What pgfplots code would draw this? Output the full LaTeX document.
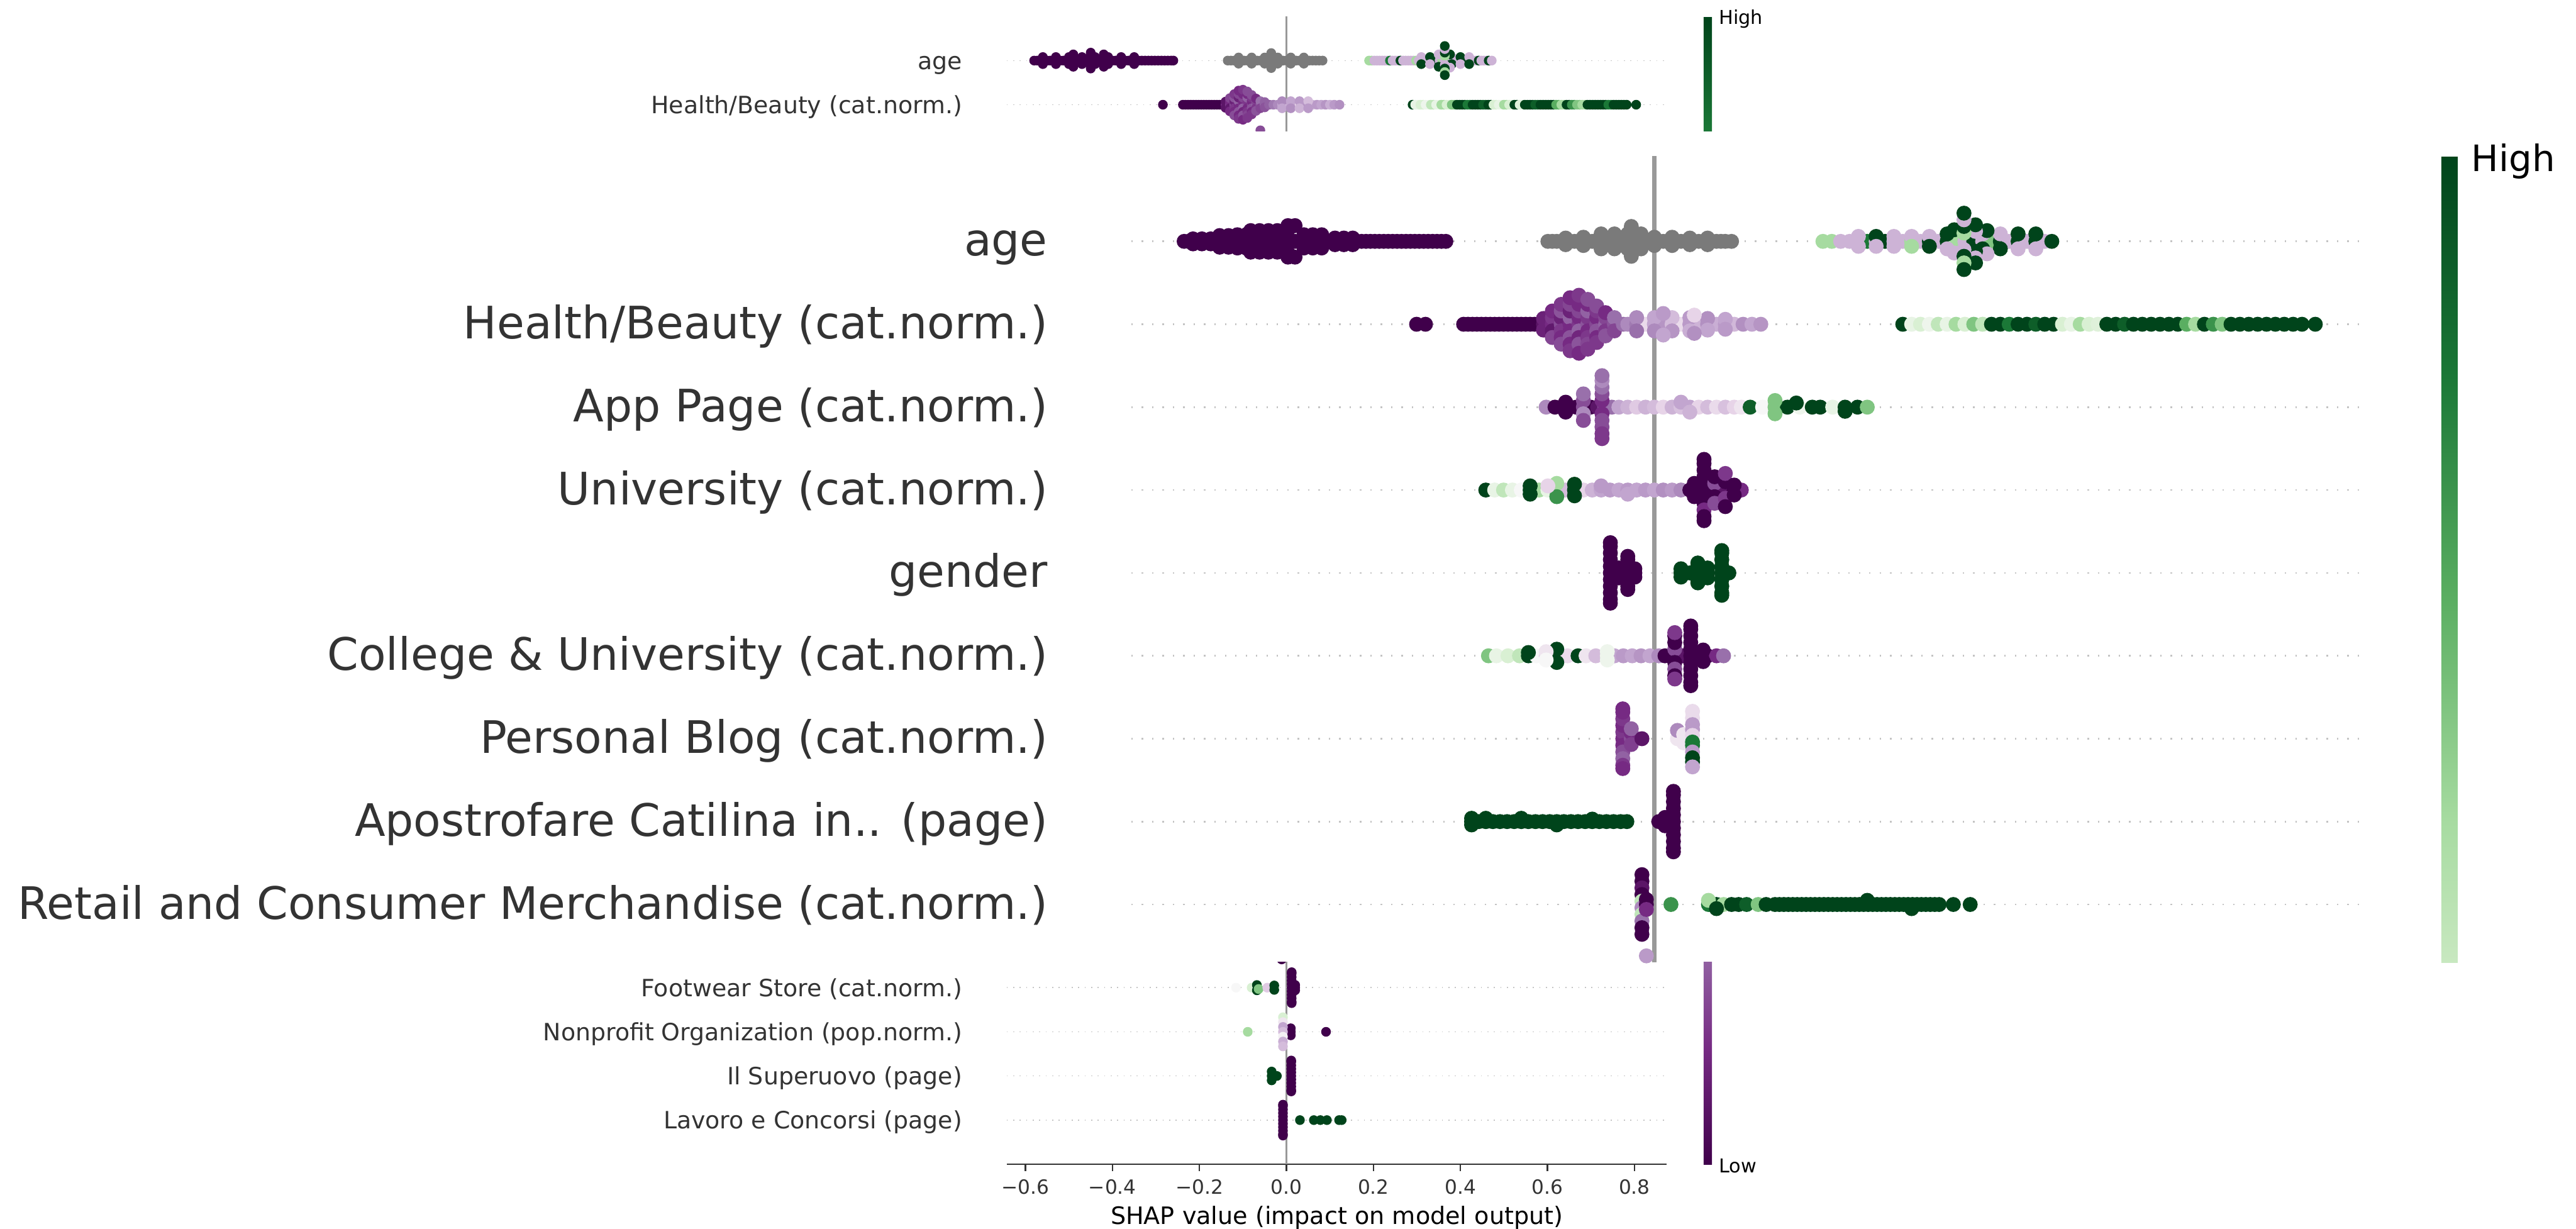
\documentclass[border=0pt]{standalone}
\usepackage{fontspec}
\setmainfont{DejaVu Sans}
\usepackage{pgfplots}
\pgfplotsset{compat=1.18}
\definecolor{c333}{HTML}{333333}
\definecolor{pdark}{HTML}{40004B}
\definecolor{gdark}{HTML}{00441B}
\definecolor{shapgray}{HTML}{7A7A7A}
\definecolor{zline}{HTML}{999999}
\definecolor{dotc}{HTML}{C4C4C4}
\pgfplotsset{
  colormap={prgn}{rgb255=(64,0,75) rgb255=(118,42,131) rgb255=(153,112,171) rgb255=(194,165,207) rgb255=(231,212,232) rgb255=(247,247,247) rgb255=(217,240,211) rgb255=(166,219,160) rgb255=(90,174,97) rgb255=(27,120,55) rgb255=(0,68,27)},
  colormap={greencb}{rgb255(0pt)=(200,232,192) rgb255(65pt)=(166,219,160) rgb255(165pt)=(90,174,97) rgb255(265pt)=(27,120,55) rgb255(365pt)=(0,68,27)},
  beeB/.style={only marks, scatter, scatter src=explicit, mark=*, mark size=0.84mm, scatter/use mapped color={draw=mapped color, fill=mapped color}},
  beeS/.style={only marks, scatter, scatter src=explicit, mark=*, mark size=0.52mm, scatter/use mapped color={draw=mapped color, fill=mapped color}},
}
\begin{document}
\begin{tikzpicture}
\useasboundingbox (0,-149.6mm) rectangle (313.6mm,0);
% ================= small (background) summary plot =================
\begin{axis}[
 at={(122.56mm,-141.72mm)}, anchor=south west,
 scale only axis, width=80.36mm, height=139.72mm,
 xmin=-0.643, xmax=0.8746, ymin=-1, ymax=25,
 axis x line*=bottom, axis y line*=left,
 y axis line style={draw=none},
 x axis line style={c333, line width=0.5pt},
 xtick={-0.6,-0.4,-0.2,0,0.2,0.4,0.6,0.8},
 xticklabels={−0.6,−0.4,−0.2,0.0,0.2,0.4,0.6,0.8},
 xtick align=outside, major tick length=0.8mm,
 xtick style={c333, line width=0.5pt},
 xticklabel style={font=\fontsize{6.8}{8}\selectfont, text=c333, inner sep=0pt, yshift=-1mm},
 ytick={0,1,2,3,23,24},
 yticklabels={{Lavoro e Concorsi (page)},{Il Superuovo (page)},{Nonprofit Organization (pop.norm.)},{Footwear Store (cat.norm.)},{Health/Beauty (cat.norm.)},{age}},
 ytick style={draw=none},
 yticklabel style={font=\fontsize{8.25}{10}\selectfont, text=c333, inner sep=0pt, anchor=base east, xshift=-5.36mm, yshift=-1.06mm},
 xlabel={SHAP value (impact on model output)},
 xlabel style={font=\fontsize{8.3}{10}\selectfont, at={(axis description cs:0.5,0)}, anchor=center, yshift=-6.54mm},
 colormap name=prgn, point meta min=0, point meta max=10,
 colorbar, colorbar style={at={(parent axis.north east)}, anchor=north west, xshift=1.48mm, scale only axis, width=1mm, height=139.72mm, hide axis},
]
\addplot[zline, line width=0.3mm] coordinates {(0,-1) (0,25)};
\pgfplotsinvokeforeach{0,1,2,3,23,24}{
\addplot[dotc, line width=0.35pt, dash pattern=on 0.35pt off 1.9pt] coordinates {(-0.643,#1) (0.8746,#1)};
}
% age (row 24)
\addplot[only marks, mark=*, mark size=0.52mm, pdark] coordinates {
(-0.58,24) (-0.5725,24) (-0.565,24) (-0.5575,24) (-0.55,24) (-0.5425,24) (-0.535,24) (-0.5275,24) (-0.52,24) (-0.5125,24) (-0.505,24) (-0.4975,24) (-0.49,24) (-0.4825,24) (-0.475,24) (-0.4675,24) (-0.46,24) (-0.4525,24) (-0.445,24) (-0.4375,24) (-0.43,24) (-0.4225,24)
(-0.415,24) (-0.4075,24) (-0.40,24) (-0.3925,24) (-0.385,24) (-0.3775,24) (-0.37,24) (-0.3625,24) (-0.355,24) (-0.3475,24) (-0.34,24) (-0.3325,24) (-0.325,24) (-0.3175,24) (-0.31,24) (-0.3025,24) (-0.295,24) (-0.2875,24) (-0.28,24) (-0.2725,24) (-0.265,24) (-0.26,24)
(-0.56,24.08) (-0.56,23.92) (-0.53,24.08) (-0.53,23.92) (-0.50,24.08) (-0.50,23.92) (-0.47,24.08) (-0.47,23.92) (-0.44,24.08) (-0.44,23.92) (-0.41,24.08) (-0.41,23.92) (-0.38,24.08) (-0.38,23.92) (-0.35,24.08) (-0.35,23.92)
(-0.49,24.14) (-0.49,23.86) (-0.45,24.14) (-0.45,23.86) (-0.42,24.14) (-0.42,23.86) (-0.45,24.18) (-0.45,23.82)};
\addplot[only marks, mark=*, mark size=0.52mm, shapgray] coordinates {
(-0.135,24) (-0.1275,24) (-0.12,24) (-0.1125,24) (-0.105,24) (-0.0975,24) (-0.09,24) (-0.0825,24) (-0.075,24) (-0.0675,24) (-0.06,24) (-0.0525,24) (-0.045,24) (-0.0375,24) (-0.03,24)
(-0.0225,24) (-0.015,24) (-0.0075,24) (0,24) (0.0075,24) (0.015,24) (0.0225,24) (0.03,24) (0.0375,24) (0.045,24) (0.0525,24) (0.06,24) (0.0675,24) (0.075,24) (0.083,24)
(-0.11,24.07) (-0.11,23.93) (-0.08,24.07) (-0.08,23.93) (-0.05,24.07) (-0.05,23.93) (-0.02,24.07) (-0.02,23.93) (0.01,24.07) (0.01,23.93) (0.04,24.07) (0.04,23.93)
(-0.035,24.13) (-0.035,23.87) (-0.035,24.17) (-0.035,23.83)};
\addplot[beeS] table[x=x,y=y,meta=c,row sep=\\]{
x y c\\
0.190 24 7\\ 0.196 24 7\\ 0.202 24 3.3\\ 0.208 24 3.3\\ 0.214 24 3.3\\ 0.220 24 3.3\\ 0.226 24 3.3\\ 0.232 24 3.3\\ 0.238 24 9\\ 0.244 24 3.3\\ 0.250 24 3.3\\ 0.256 24 3.3\\ 0.262 24 10\\ 0.268 24 3.3\\ 0.274 24 3.3\\ 0.280 24 3.3\\ 0.286 24 3.3\\ 0.292 24 3.3\\ 0.298 24 7\\ 0.304 24 3.3\\
0.310 24 3.3\\ 0.316 24 3.3\\ 0.322 24 10\\ 0.328 24 3.3\\ 0.334 24 3.3\\ 0.340 24 3.3\\ 0.346 24 10\\ 0.352 24 3.3\\ 0.358 24 7\\ 0.364 24 3.3\\ 0.370 24 3.3\\ 0.376 24 3.3\\ 0.382 24 10\\ 0.388 24 3.3\\ 0.394 24 3.3\\ 0.400 24 3.3\\ 0.406 24 7.5\\ 0.412 24 3.3\\ 0.418 24 10\\ 0.424 24 3.3\\
0.430 24 3.3\\ 0.436 24 3.3\\ 0.442 24 10\\ 0.448 24 3.3\\ 0.454 24 3.3\\ 0.460 24 3.3\\ 0.465 24 10\\ 0.472 24 3.3\\
0.310 24.08 3.3\\ 0.310 23.92 10\\ 0.330 24.08 10\\ 0.330 23.92 3.3\\ 0.380 24.08 3.3\\ 0.380 23.92 10\\ 0.400 24.08 10\\ 0.400 23.92 3.3\\ 0.420 24.08 3.3\\ 0.420 23.92 10\\
0.350 24.14 3.3\\ 0.350 23.86 10\\ 0.376 24.14 10\\ 0.376 23.84 3.3\\
0.364 24.1 7\\ 0.364 24.18 10\\ 0.364 24.26 3.3\\ 0.364 24.33 10\\ 0.364 23.9 3.3\\ 0.364 23.82 10\\ 0.364 23.74 7\\ 0.364 23.67 10\\
};
% Health/Beauty (row 23)
\addplot[only marks, mark=*, mark size=0.52mm, pdark] coordinates {
(-0.284,23) (-0.238,23) (-0.232,23) (-0.226,23) (-0.22,23) (-0.214,23) (-0.208,23) (-0.202,23) (-0.196,23) (-0.19,23) (-0.184,23) (-0.178,23) (-0.172,23) (-0.166,23) (-0.16,23) (-0.154,23) (-0.148,23) (-0.145,23)};
\addplot[beeS] table[x=x,y=y,meta=c,row sep=\\]{
x y c\\
-0.140 23 1\\ -0.140 23.07 0.5\\ -0.140 22.93 0.5\\
-0.130 23 1.2\\ -0.130 23.08 1\\ -0.130 22.92 0.6\\ -0.130 23.15 1.4\\ -0.130 22.85 1\\
-0.120 23 1.5\\ -0.120 23.08 0.8\\ -0.120 22.92 1.2\\ -0.120 23.16 1.6\\ -0.120 22.84 1\\ -0.120 23.24 1.2\\ -0.120 22.76 1.5\\
-0.110 23 1\\ -0.110 23.08 1.8\\ -0.110 22.92 1\\ -0.110 23.16 0.8\\ -0.110 22.84 1.6\\ -0.110 23.24 1.4\\ -0.110 22.76 1\\ -0.110 23.32 1\\ -0.110 22.68 1.2\\
-0.100 23 1.2\\ -0.100 23.08 1\\ -0.100 22.92 1.8\\ -0.100 23.16 1.4\\ -0.100 22.84 0.9\\ -0.100 23.24 1\\ -0.100 22.76 1.6\\ -0.100 23.34 1.2\\ -0.100 22.66 1\\
-0.090 23 1.6\\ -0.090 23.08 1.2\\ -0.090 22.92 1\\ -0.090 23.16 1.8\\ -0.090 22.84 1.2\\ -0.090 23.24 1\\ -0.090 22.76 1.4\\ -0.090 23.3 1.5\\ -0.090 22.7 1.2\\
-0.080 23 1.4\\ -0.080 23.08 1\\ -0.080 22.92 1.6\\ -0.080 23.16 1.2\\ -0.080 22.84 1\\ -0.080 23.22 1.5\\ -0.080 22.78 1.2\\
-0.070 23 1.8\\ -0.070 23.08 1.4\\ -0.070 22.92 1.2\\ -0.070 23.14 1\\ -0.070 22.86 1.6\\
-0.060 23 1.6\\ -0.060 23.08 2\\ -0.060 22.92 1.4\\
-0.050 23 2\\ -0.050 23.06 1.8\\ -0.050 22.94 1.6\\
-0.040 23 1.8\\ -0.030 23 2.2\\
-0.020 23 2.5\\ -0.010 23 3\\ 0.000 23 4.2\\ 0.010 23 3\\ 0.020 23 2.8\\ 0.030 23 4\\ 0.040 23 3\\ 0.050 23 2.6\\ 0.060 23 3.3\\ 0.070 23 2.8\\
0.080 23 3\\ 0.090 23 2.7\\ 0.100 23 3.2\\ 0.110 23 2.8\\ 0.122 23 2.6\\
-0.010 23.08 2.5\\ -0.010 22.92 3\\ 0.010 23.08 3\\ 0.010 22.92 2.6\\ 0.030 23.08 2.8\\ 0.030 22.92 3.3\\ 0.050 23.08 3.5\\ 0.050 22.92 2.8\\
0.290 23 10\\ 0.296 23 5.5\\ 0.302 23 5.5\\ 0.308 23 6\\ 0.314 23 6\\ 0.320 23 5.3\\ 0.326 23 5.3\\ 0.332 23 6.5\\ 0.338 23 6.5\\ 0.344 23 5.5\\ 0.350 23 5.5\\ 0.356 23 7\\ 0.362 23 7\\ 0.368 23 6\\ 0.374 23 6\\ 0.380 23 7.5\\ 0.386 23 7.5\\ 0.392 23 10\\ 0.398 23 10\\ 0.404 23 10\\
0.410 23 10\\ 0.416 23 9\\ 0.422 23 9\\ 0.428 23 10\\ 0.434 23 10\\ 0.440 23 10\\ 0.446 23 10\\ 0.452 23 9.5\\ 0.458 23 9.5\\ 0.464 23 10\\ 0.470 23 10\\ 0.476 23 6\\ 0.482 23 6\\ 0.488 23 5.5\\ 0.494 23 5.5\\ 0.500 23 7\\ 0.506 23 7\\ 0.512 23 6\\ 0.518 23 6\\ 0.524 23 10\\
0.530 23 10\\ 0.536 23 5.8\\ 0.542 23 5.8\\ 0.548 23 10\\ 0.554 23 10\\ 0.560 23 10\\ 0.566 23 10\\ 0.572 23 9.5\\ 0.578 23 9.5\\ 0.584 23 10\\ 0.590 23 10\\ 0.596 23 10\\ 0.602 23 10\\ 0.608 23 10\\ 0.614 23 10\\ 0.620 23 8\\ 0.626 23 8\\ 0.632 23 7\\ 0.638 23 7\\ 0.644 23 10\\
0.650 23 10\\ 0.656 23 8.5\\ 0.662 23 8.5\\ 0.668 23 7.5\\ 0.674 23 7.5\\ 0.680 23 7\\ 0.686 23 7\\ 0.692 23 10\\ 0.698 23 10\\ 0.704 23 10\\ 0.710 23 10\\ 0.716 23 10\\ 0.722 23 10\\ 0.728 23 10\\ 0.734 23 10\\ 0.740 23 9\\ 0.746 23 9\\ 0.752 23 10\\ 0.758 23 10\\ 0.764 23 10\\
0.770 23 10\\ 0.776 23 10\\ 0.782 23 10\\ 0.804 23 10\\
-0.060 22.42 1.5\\ -0.011 3.64 0\\
};
% bottom rows
\addplot[only marks, mark=*, mark size=0.52mm, pdark] coordinates {
(0.012,3) (0.012,3.08) (0.012,2.92) (0.012,3.16) (0.012,2.84) (0.012,3.24) (0.012,2.76) (0.012,3.32) (0.012,2.68) (0.012,3.35) (0.012,2.65) (0.02,3) (0.02,3.06) (0.02,2.94)
(0.01,2) (0.01,2.08) (0.01,1.92) (0.091,2)
(0.011,1) (0.011,1.08) (0.011,0.92) (0.011,1.16) (0.011,0.84) (0.011,1.24) (0.011,0.76) (0.011,1.32) (0.011,0.68) (0.011,1.35) (0.011,0.65)
(-0.008,0) (-0.008,0.08) (-0.008,-0.08) (-0.008,0.16) (-0.008,-0.16) (-0.008,0.24) (-0.008,-0.24) (-0.008,0.32) (-0.008,-0.32) (-0.008,0.35) (-0.008,-0.35)};
\addplot[beeS] table[x=x,y=y,meta=c,row sep=\\]{
x y c\\
-0.116 3 5\\ -0.080 3 6\\ -0.068 3.06 10\\ -0.068 2.94 10\\ -0.064 2.97 7.5\\ -0.044 3 3.8\\ -0.028 3.05 10\\ -0.028 2.95 10\\
-0.089 2 7\\ -0.008 2.33 6\\ -0.008 2.22 4.5\\ -0.008 2.11 3\\ -0.008 2 3.5\\ -0.008 1.89 4.8\\ -0.008 1.78 3.2\\ -0.008 1.67 3.5\\
-0.034 1 10\\ -0.034 1.1 10\\ -0.034 0.9 10\\ -0.022 1 10\\
0.031 0 10\\ 0.063 0 10\\ 0.078 0 10\\ 0.093 0 10\\ 0.121 0 10\\ 0.127 0 10\\
};
\end{axis}
\node[anchor=base west, inner sep=0pt, font=\fontsize{6.6}{8}\selectfont] at (209.2mm,-2.96mm) {High};
\node[anchor=base west, inner sep=0pt, font=\fontsize{6.6}{8}\selectfont] at (209.2mm,-142.78mm) {Low};
% ================= white overlay =================
\fill[white] (0,-16mm) rectangle (313.6mm,-117.1mm);
% ================= large overlay plot =================
\begin{axis}[
 at={(137.72mm,-19mm)}, anchor=north west,
 scale only axis, width=150.08mm, height=98.1mm,
 xmin=-0.5896, xmax=0.8, ymin=-0.694, ymax=9.029,
 axis x line=none, axis y line*=left,
 y axis line style={draw=none},
 ytick={0,1,2,3,4,5,6,7,8},
 yticklabels={{Retail and Consumer Merchandise (cat.norm.)},{Apostrofare Catilina in.. (page)},{Personal Blog (cat.norm.)},{College \& University (cat.norm.)},{gender},{University (cat.norm.)},{App Page (cat.norm.)},{Health/Beauty (cat.norm.)},{age}},
 ytick style={draw=none},
 yticklabel style={font=\fontsize{15.5}{18}\selectfont, text=c333, inner sep=0pt, anchor=base east, xshift=-10.12mm, yshift=-1.76mm},
 colormap name=prgn, point meta min=0, point meta max=10,
]
\addplot[zline, line width=0.55mm] coordinates {(0,-0.694) (0,9.029)};
\pgfplotsinvokeforeach{0,...,8}{
\addplot[dotc, line width=0.6pt, dash pattern=on 0.5pt off 3.1pt] coordinates {(-0.5896,#1) (0.8,#1)};
}
% age (row 8)
\addplot[only marks, mark=*, mark size=0.84mm, pdark] coordinates {
(-0.530,8) (-0.525,8) (-0.520,8) (-0.515,8) (-0.510,8) (-0.505,8) (-0.500,8) (-0.495,8) (-0.490,8) (-0.485,8) (-0.480,8) (-0.475,8) (-0.470,8) (-0.465,8) (-0.460,8) (-0.455,8) (-0.450,8) (-0.445,8) (-0.440,8) (-0.435,8)
(-0.430,8) (-0.425,8) (-0.420,8) (-0.415,8) (-0.410,8) (-0.405,8) (-0.400,8) (-0.395,8) (-0.390,8) (-0.385,8) (-0.380,8) (-0.375,8) (-0.370,8) (-0.365,8) (-0.360,8) (-0.355,8) (-0.350,8) (-0.345,8) (-0.340,8) (-0.335,8)
(-0.330,8) (-0.325,8) (-0.320,8) (-0.315,8) (-0.310,8) (-0.305,8) (-0.300,8) (-0.295,8) (-0.290,8) (-0.285,8) (-0.280,8) (-0.275,8) (-0.270,8) (-0.265,8) (-0.260,8) (-0.255,8) (-0.250,8) (-0.245,8) (-0.240,8) (-0.235,8)
(-0.52,8.03) (-0.52,7.97) (-0.51,8.03) (-0.51,7.97) (-0.50,8.03) (-0.50,7.97)
(-0.49,8.07) (-0.49,7.93) (-0.48,8.07) (-0.48,7.93) (-0.47,8.08) (-0.47,7.92) (-0.46,8.08) (-0.46,7.92)
(-0.455,8.13) (-0.455,7.87) (-0.445,8.13) (-0.445,7.87) (-0.435,8.13) (-0.435,7.87) (-0.425,8.13) (-0.425,7.87)
(-0.413,8.14) (-0.413,7.86) (-0.413,8.19) (-0.413,7.81) (-0.405,8.19) (-0.405,7.81)
(-0.395,8.08) (-0.395,7.92) (-0.385,8.08) (-0.385,7.92) (-0.375,8.08) (-0.375,7.92)
(-0.36,8.04) (-0.36,7.96) (-0.35,8.04) (-0.35,7.96) (-0.34,8.04) (-0.34,7.96)};
\addplot[only marks, mark=*, mark size=0.84mm, shapgray] coordinates {
(-0.120,8) (-0.115,8) (-0.110,8) (-0.105,8) (-0.100,8) (-0.095,8) (-0.090,8) (-0.085,8) (-0.080,8) (-0.075,8) (-0.070,8) (-0.065,8) (-0.060,8) (-0.055,8) (-0.050,8) (-0.045,8) (-0.040,8) (-0.035,8) (-0.030,8) (-0.025,8) (-0.020,8)
(-0.015,8) (-0.010,8) (-0.005,8) (0,8) (0.005,8) (0.010,8) (0.015,8) (0.020,8) (0.025,8) (0.030,8) (0.035,8) (0.040,8) (0.045,8) (0.050,8) (0.055,8) (0.060,8) (0.065,8) (0.070,8) (0.075,8) (0.080,8) (0.087,8)
(-0.10,8.04) (-0.10,7.96) (-0.08,8.05) (-0.08,7.95) (-0.06,8.05) (-0.06,7.95) (-0.04,8.05) (-0.04,7.95) (-0.02,8.05) (-0.02,7.95) (0,8.05) (0,7.95) (0.02,8.05) (0.02,7.95) (0.04,8.04) (0.04,7.96) (0.06,8.04) (0.06,7.96)
(-0.06,8.09) (-0.06,7.91) (-0.045,8.09) (-0.045,7.91) (-0.03,8.09) (-0.03,7.91) (-0.015,8.09) (-0.015,7.91)
(-0.026,8.14) (-0.026,7.86) (-0.026,8.18) (-0.026,7.82)};
\addplot[beeB] table[x=x,y=y,meta=c,row sep=\\]{
x y c\\
0.19 8 7\\ 0.20 8 7\\ 0.21 8 3.3\\ 0.22 8 3.3\\ 0.23 8 3.3\\ 0.24 8 9\\ 0.25 8 3.3\\ 0.26 8 10\\ 0.27 8 3.3\\ 0.28 8 3.3\\
0.29 8 7\\ 0.30 8 3.3\\ 0.31 8 10\\ 0.32 8 3.3\\ 0.33 8 10\\ 0.34 8 7\\ 0.35 8 3.3\\ 0.36 8 10\\ 0.37 8 3.3\\ 0.38 8 7.5\\
0.39 8 10\\ 0.40 8 3.3\\ 0.41 8 10\\ 0.42 8 3.3\\ 0.43 8 10\\ 0.44 8 3.3\\ 0.448 8 10\\
0.23 8.06 3.3\\ 0.23 7.94 3.3\\ 0.25 8.06 10\\ 0.25 7.94 3.3\\ 0.27 8.06 3.3\\ 0.27 7.94 3.3\\ 0.29 8.06 3.3\\ 0.29 7.94 7\\ 0.31 8.06 3.3\\ 0.31 7.94 10\\
0.33 8.09 10\\ 0.33 7.91 3.3\\ 0.37 8.09 3.3\\ 0.37 7.91 10\\ 0.39 8.09 3.3\\ 0.39 7.91 10\\ 0.41 8.09 10\\ 0.41 7.91 3.3\\ 0.43 8.09 10\\ 0.43 7.91 3.3\\
0.338 8.14 10\\ 0.338 7.86 3.3\\ 0.375 8.13 10\\ 0.375 7.85 3.3\\
0.362 8.12 3.3\\ 0.362 8.2 10\\ 0.362 7.88 10\\ 0.362 7.8 3.3\\ 0.362 7.74 10\\
0.349 8.1 7\\ 0.349 8.18 10\\ 0.349 8.26 3.3\\ 0.349 8.34 10\\ 0.349 7.9 3.3\\ 0.349 7.82 10\\ 0.349 7.74 7\\ 0.349 7.66 10\\
};
% Health/Beauty (row 7)
\addplot[only marks, mark=*, mark size=0.84mm, pdark] coordinates {
(-0.268,7) (-0.258,7) (-0.215,7) (-0.210,7) (-0.205,7) (-0.200,7) (-0.195,7) (-0.190,7) (-0.185,7) (-0.180,7) (-0.175,7) (-0.170,7) (-0.165,7) (-0.160,7) (-0.155,7) (-0.150,7) (-0.145,7) (-0.140,7) (-0.135,7)};
\addplot[beeB] table[x=x,y=y,meta=c,row sep=\\]{
x y c\\
-0.125 7 0.5\\ -0.125 7.07 0.8\\ -0.125 6.93 0.8\\
-0.115 7 1\\ -0.115 7.08 1.2\\ -0.115 6.92 0.6\\ -0.115 7.16 1\\ -0.115 6.84 1.4\\
-0.105 7 1.5\\ -0.105 7.08 0.8\\ -0.105 6.92 1.2\\ -0.105 7.16 1.6\\ -0.105 6.84 1\\ -0.105 7.24 1.2\\ -0.105 6.76 1.5\\
-0.095 7 1\\ -0.095 7.08 1.8\\ -0.095 6.92 1\\ -0.095 7.16 0.8\\ -0.095 6.84 1.6\\ -0.095 7.24 1.4\\ -0.095 6.76 1\\ -0.095 7.32 1\\ -0.095 6.68 1.2\\
-0.085 7 1.2\\ -0.085 7.08 1\\ -0.085 6.92 1.8\\ -0.085 7.16 1.4\\ -0.085 6.84 0.9\\ -0.085 7.24 1\\ -0.085 6.76 1.6\\ -0.085 7.35 1.2\\ -0.085 6.65 1\\
-0.075 7 1.6\\ -0.075 7.08 1.2\\ -0.075 6.92 1\\ -0.075 7.16 1.8\\ -0.075 6.84 1.2\\ -0.075 7.24 1\\ -0.075 6.76 1.4\\ -0.075 7.3 1.5\\ -0.075 6.7 1.2\\
-0.065 7 1.4\\ -0.065 7.08 1\\ -0.065 6.92 1.6\\ -0.065 7.16 1.2\\ -0.065 6.84 1\\ -0.065 7.22 1.5\\ -0.065 6.78 1.2\\
-0.055 7 1.8\\ -0.055 7.08 1.4\\ -0.055 6.92 1.2\\ -0.055 7.14 1\\ -0.055 6.86 1.6\\
-0.045 7 1.6\\ -0.045 7.08 2\\ -0.045 6.92 1.4\\ -0.035 7 2\\
-0.03 7 2.5\\ -0.02 7 2.2\\ -0.01 7 4.2\\ 0.00 7 3\\ 0.01 7 2.7\\ 0.02 7 3.5\\ 0.03 7 4.2\\ 0.04 7 2.8\\ 0.05 7 3.3\\ 0.06 7 2.6\\
0.07 7 3.2\\ 0.08 7 2.8\\ 0.09 7 3.4\\ 0.10 7 2.6\\ 0.11 7 3\\ 0.12 7 2.7\\
-0.02 7.08 2.5\\ -0.02 6.92 2\\ 0.00 7.08 3\\ 0.00 6.92 2.5\\ 0.02 7.08 3.5\\ 0.02 6.92 2.7\\ 0.04 7.08 2.8\\ 0.04 6.92 3.2\\ 0.06 7.07 2.6\\ 0.06 6.93 3\\
0.08 7.06 3\\ 0.08 6.94 2.8\\ 0.01 7.13 2.8\\ 0.01 6.87 3\\ 0.045 7.11 4\\ 0.045 6.89 2.6\\
0.28 7 10\\ 0.29 7 5.5\\ 0.30 7 6\\ 0.31 7 5.3\\ 0.32 7 6.5\\ 0.33 7 5.5\\ 0.34 7 7\\ 0.35 7 6\\ 0.36 7 7.5\\ 0.37 7 6.5\\
0.38 7 10\\ 0.39 7 10\\ 0.40 7 9\\ 0.41 7 10\\ 0.42 7 10\\ 0.43 7 9.5\\ 0.44 7 10\\ 0.45 7 10\\
0.46 7 6\\ 0.47 7 5.5\\ 0.48 7 7\\ 0.49 7 6\\ 0.50 7 5.8\\
0.51 7 10\\ 0.52 7 10\\ 0.53 7 9.5\\ 0.54 7 10\\ 0.55 7 10\\ 0.56 7 10\\ 0.57 7 10\\ 0.58 7 10\\ 0.59 7 10\\
0.60 7 8\\ 0.61 7 7\\ 0.62 7 10\\ 0.63 7 8.5\\ 0.64 7 7.5\\
0.65 7 10\\ 0.66 7 10\\ 0.67 7 10\\ 0.68 7 10\\ 0.69 7 10\\ 0.70 7 10\\ 0.71 7 10\\ 0.72 7 10\\ 0.73 7 10\\ 0.745 7 10\\
};
% App Page (row 6)
\addplot[beeB] table[x=x,y=y,meta=c,row sep=\\]{
x y c\\
-0.122 6 2.5\\ -0.112 6 0\\ -0.104 6 0\\ -0.096 6 1\\ -0.088 6 0\\ -0.080 6 1.5\\ -0.072 6 0\\ -0.064 6 0.5\\ -0.056 6 1.5\\ -0.048 6 2\\
-0.040 6 3\\ -0.030 6 3.3\\ -0.020 6 3.8\\ -0.010 6 3.3\\ 0.000 6 3.5\\ 0.010 6 4\\ 0.020 6 3.3\\ 0.030 6 3.6\\ 0.040 6 3\\ 0.050 6 4\\
0.060 6 3.5\\ 0.070 6 4.2\\ 0.080 6 3.6\\ 0.090 6 4\\ 0.098 6 4.5\\ 0.108 6 9.5\\ 0.122 6 5\\ 0.136 6 7.5\\ 0.150 6 10\\ 0.164 6 5.3\\
0.178 6 10\\ 0.187 6 10\\ 0.201 6 5.5\\ 0.215 6 10\\ 0.229 6 10\\ 0.240 6 7.5\\
-0.100 6.06 0\\ -0.100 5.94 0\\ -0.080 6.08 1.5\\ -0.080 5.92 2.5\\ -0.080 6.16 2\\ -0.080 5.84 1.5\\
-0.059 6.08 1\\ -0.059 6.16 1.5\\ -0.059 6.24 2\\ -0.059 6.32 2.5\\ -0.059 6.38 2\\ -0.059 5.92 1\\ -0.059 5.84 1.5\\ -0.059 5.76 1.5\\ -0.059 5.68 1.2\\ -0.059 5.62 1.2\\
0.030 6.06 3\\ 0.040 5.94 3.3\\ 0.136 6.08 7.5\\ 0.136 5.92 7.5\\ 0.160 6.05 10\\ 0.215 5.95 10\\
};
% University (row 5)
\addplot[beeB] table[x=x,y=y,meta=c,row sep=\\]{
x y c\\
-0.190 5 10\\ -0.180 5 5.5\\ -0.170 5 6.5\\ -0.160 5 5.5\\ -0.150 5 5\\ -0.140 5 10\\ -0.130 5 7\\ -0.120 5 5.5\\ -0.110 5 8.5\\ -0.100 5 3.5\\
-0.090 5 10\\ -0.080 5 4\\ -0.070 5 3.3\\ -0.060 5 3\\ -0.050 5 2.8\\ -0.040 5 3\\ -0.030 5 2.8\\ -0.020 5 3\\ -0.010 5 2.8\\ 0.000 5 3\\
0.010 5 2.6\\ 0.020 5 2.8\\ 0.030 5 2.5\\
-0.140 5.05 10\\ -0.140 4.95 10\\ -0.110 5.08 7\\ -0.110 4.92 8.5\\ -0.090 5.07 10\\ -0.090 4.93 10\\ -0.120 5.05 4\\ -0.060 5.05 2.8\\ -0.030 4.95 3\\
0.040 5 0\\ 0.050 5 0\\ 0.060 5 0\\ 0.070 5 0\\ 0.080 5 0.5\\ 0.090 5 0\\ 0.098 5 1\\
0.045 5.08 0\\ 0.045 4.92 0\\
0.056 5.08 0\\ 0.056 5.16 0\\ 0.056 5.24 0\\ 0.056 5.32 0\\ 0.056 5.37 0\\ 0.056 4.92 0\\ 0.056 4.84 0\\ 0.056 4.76 1\\ 0.056 4.68 0\\ 0.056 4.63 0\\
0.068 5.08 1.5\\ 0.068 5.16 0\\ 0.068 4.92 0\\ 0.068 4.84 1.5\\
0.080 5.1 0\\ 0.080 5.2 1.2\\ 0.080 4.9 1.2\\ 0.080 4.8 0\\ 0.090 5.06 0\\ 0.090 4.94 0\\
};
% gender (row 4)
\addplot[only marks, mark=*, mark size=0.84mm, pdark] coordinates {
(-0.0496,4) (-0.0496,4.08) (-0.0496,3.92) (-0.0496,4.16) (-0.0496,3.84) (-0.0496,4.24) (-0.0496,3.76) (-0.0496,4.32) (-0.0496,3.68) (-0.0496,4.365) (-0.0496,3.635)
(-0.03,4) (-0.03,4.08) (-0.03,3.92) (-0.03,4.16) (-0.03,3.84) (-0.03,4.2) (-0.03,3.8) (-0.04,4) (-0.04,4.06) (-0.04,3.94) (-0.022,4) (-0.022,4.05) (-0.022,3.95)};
\addplot[only marks, mark=*, mark size=0.84mm, gdark] coordinates {
(0.076,4) (0.076,4.08) (0.076,3.92) (0.076,4.16) (0.076,3.84) (0.076,4.24) (0.076,3.76) (0.076,4.27) (0.076,3.73)
(0.049,4) (0.049,4.08) (0.049,3.92) (0.049,4.12) (0.049,3.88) (0.03,4) (0.03,4.05) (0.03,3.95) (0.04,4) (0.06,4) (0.06,4.06) (0.06,3.94) (0.084,4)};
% College & University (row 3)
\addplot[beeB] table[x=x,y=y,meta=c,row sep=\\]{
x y c\\
-0.187 3 7.5\\ -0.178 3 5.5\\ -0.165 3 6\\ -0.152 3 6.5\\ -0.142 3 10\\ -0.133 3 5\\ -0.122 3 4\\ -0.110 3 10\\ -0.098 3 4.2\\ -0.086 3 10\\
-0.077 3 4.5\\ -0.066 3 3.5\\ -0.053 3 5.3\\ -0.045 3 3\\ -0.035 3 2.8\\ -0.025 3 3\\ -0.015 3 2.7\\ -0.005 3 3\\ 0.005 3 2.5\\
-0.110 3.08 10\\ -0.110 2.92 10\\ -0.122 3.05 4.5\\ -0.122 2.95 5\\ -0.053 3.05 5.3\\ -0.053 2.95 5.3\\ -0.142 3.04 10\\
0.012 3 0\\ 0.023 3 0\\ 0.032 3 0.5\\ 0.041 3 0\\ 0.050 3 0\\ 0.060 3 0\\ 0.070 3 1\\ 0.078 3 2\\
0.023 3.08 1.5\\ 0.023 2.92 0\\ 0.023 3.16 0\\ 0.023 2.84 1.5\\ 0.023 3.24 0\\ 0.023 2.76 0\\ 0.023 3.28 1.2\\ 0.023 2.72 1.2\\
0.041 3.08 0\\ 0.041 2.92 0\\ 0.041 3.16 0\\ 0.041 2.84 0\\ 0.041 3.24 0\\ 0.041 2.76 0\\ 0.041 3.32 0\\ 0.041 2.68 0\\ 0.041 3.36 0\\ 0.041 2.64 0\\
0.055 3.07 0\\ 0.055 2.93 0\\
};
% Personal Blog (row 2)
\addplot[beeB] table[x=x,y=y,meta=c,row sep=\\]{
x y c\\
-0.0356 2 1\\ -0.0356 2.08 1.2\\ -0.0356 1.92 1\\ -0.0356 2.16 1\\ -0.0356 1.84 1.5\\ -0.0356 2.24 1.2\\ -0.0356 1.76 1.8\\ -0.0356 2.32 1\\ -0.0356 1.68 1.2\\ -0.0356 2.36 1\\ -0.0356 1.64 1\\
-0.026 2 1.5\\ -0.026 2.07 1\\ -0.026 1.93 1.3\\ -0.026 2.12 1.8\\ -0.014 2 0.5\\
0.026 2 4.5\\ 0.026 2.1 2.5\\ 0.033 2.05 4.5\\ 0.033 1.95 4.5\\
0.043 2.33 4.2\\ 0.043 2.25 4.2\\ 0.043 2.17 2.8\\ 0.043 2.11 2.8\\ 0.043 2.04 4\\ 0.043 1.96 9\\ 0.043 1.92 9\\ 0.043 1.84 2.8\\ 0.043 1.77 10\\ 0.043 1.72 10\\ 0.043 1.66 3\\
};
% Apostrofare (row 1)
\addplot[only marks, mark=*, mark size=0.84mm, gdark] coordinates {
(-0.206,1) (-0.198,1) (-0.19,1) (-0.182,1) (-0.174,1) (-0.166,1) (-0.158,1) (-0.15,1) (-0.142,1) (-0.134,1) (-0.126,1) (-0.118,1) (-0.11,1) (-0.102,1) (-0.094,1) (-0.086,1) (-0.078,1) (-0.07,1) (-0.062,1) (-0.054,1) (-0.046,1) (-0.038,1) (-0.031,1)
(-0.206,1.04) (-0.206,0.96) (-0.19,1.04) (-0.15,1.04) (-0.11,0.96) (-0.07,1.03)};
\addplot[only marks, mark=*, mark size=0.84mm, pdark] coordinates {
(0.0215,1) (0.0215,1.08) (0.0215,0.92) (0.0215,1.16) (0.0215,0.84) (0.0215,1.24) (0.0215,0.76) (0.0215,1.32) (0.0215,0.68) (0.0215,1.365) (0.0215,0.635)
(0.005,1) (0.012,1) (0.012,1.05) (0.012,0.95)};
% Retail (row 0)
\addplot[beeB] table[x=x,y=y,meta=c,row sep=\\]{
x y c\\
-0.014 0.36 0\\ -0.014 0.28 0\\ -0.014 0.2 0.5\\ -0.014 0.12 0\\ -0.014 0.04 6.5\\ -0.014 -0.04 2.5\\ -0.014 -0.12 6.5\\ -0.014 -0.2 2\\ -0.014 -0.28 0\\ -0.014 -0.36 0\\
-0.009 0 0\\ -0.009 0.06 0\\ -0.009 -0.06 1\\ -0.009 -0.62 2.8\\
0.0187 0 8.5\\ 0.061 0 9\\ 0.070 0 10\\ 0.078 0 7\\ 0.087 0 10\\ 0.095 0 10\\ 0.104 0 9.5\\ 0.117 0 7.5\\ 0.126 0 10\\
0.136 0 10\\ 0.141 0 10\\ 0.146 0 10\\ 0.151 0 10\\ 0.156 0 10\\ 0.161 0 10\\ 0.166 0 10\\ 0.171 0 10\\ 0.176 0 10\\ 0.181 0 10\\ 0.186 0 10\\ 0.191 0 10\\ 0.196 0 10\\ 0.201 0 10\\ 0.206 0 10\\ 0.211 0 10\\
0.216 0 10\\ 0.221 0 10\\ 0.226 0 10\\ 0.231 0 10\\ 0.236 0 10\\ 0.241 0 10\\ 0.246 0 10\\ 0.251 0 10\\ 0.256 0 10\\ 0.261 0 10\\ 0.266 0 10\\ 0.271 0 10\\ 0.276 0 10\\ 0.281 0 10\\ 0.286 0 10\\ 0.291 0 10\\
0.296 0 10\\ 0.301 0 10\\ 0.306 0 10\\ 0.311 0 10\\ 0.316 0 10\\ 0.321 0 10\\ 0.337 0 10\\ 0.356 0 10\\
0.061 0.05 7\\ 0.070 -0.05 10\\ 0.240 0.05 10\\ 0.290 -0.05 10\\
};
\end{axis}
% large colorbar
\begin{axis}[
 at={(297.2mm,-19mm)}, anchor=north west,
 scale only axis, width=2mm, height=98.2mm, hide axis,
 xmin=0, xmax=1, ymin=0, ymax=1,
 colormap name=greencb, point meta min=0, point meta max=1,
 colorbar, colorbar style={at={(parent axis.north west)}, anchor=north west, xshift=-3mm, scale only axis, width=2mm, height=98.2mm, hide axis},
]
\addplot[draw=none] coordinates {(0,0)};
\end{axis}
\node[anchor=base west, inner sep=0pt, font=\fontsize{12.6}{15}\selectfont] at (300.8mm,-20.84mm) {High};
\end{tikzpicture}
\end{document}
